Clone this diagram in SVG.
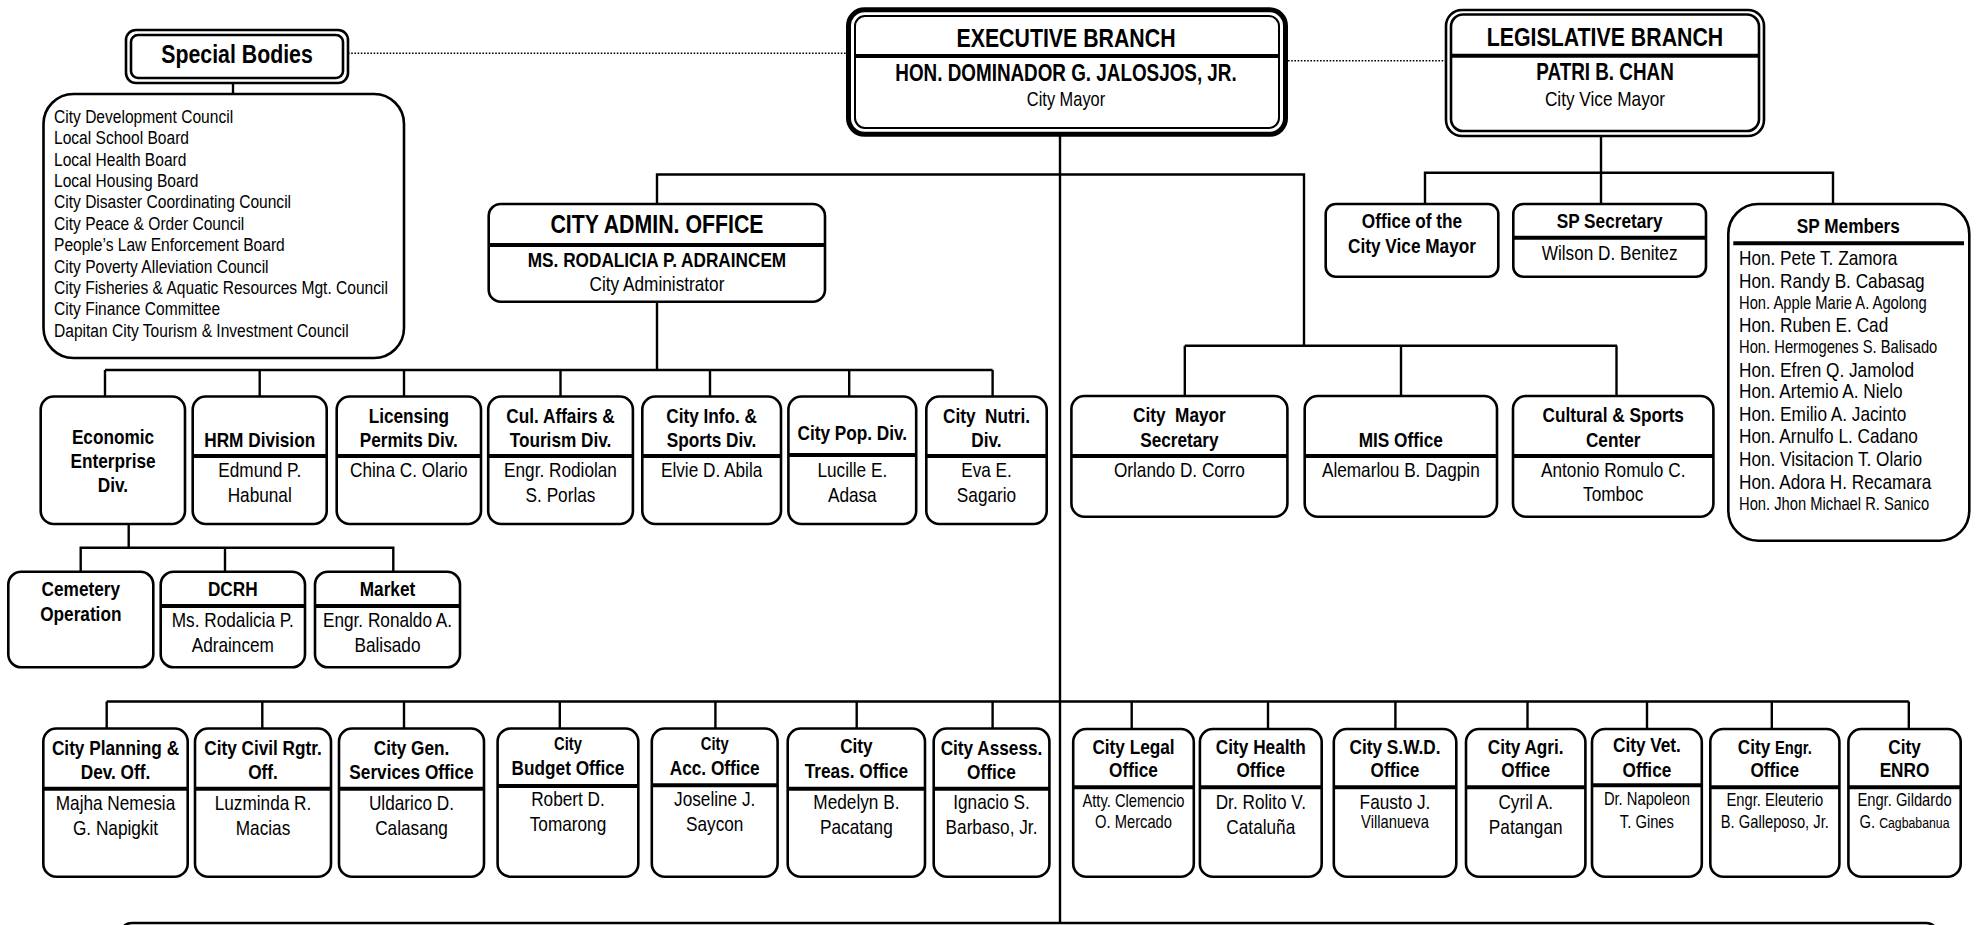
<svg xmlns="http://www.w3.org/2000/svg" width="1986" height="925" viewBox="0 0 1986 925">
<style>
.bg{fill:#fff}
.box{fill:#fff;stroke:#000;stroke-width:2.6}
.sep{stroke:#000;stroke-width:4}
.ln{stroke:#000;stroke-width:2.4;fill:none}
.dot{stroke:#000;stroke-width:1.6;stroke-dasharray:1.6 1.6;fill:none}
text{font-family:'Liberation Sans',Arial,sans-serif;font-size:21px;fill:#000;text-anchor:middle}
.b{font-weight:bold}
.l{text-anchor:start}
.h1{font-size:26px}
.h2{font-size:23px}
.s{font-size:18px}
.xs{font-size:16px}
.li{font-size:19px;text-anchor:start}
</style>
<rect class="bg" x="0" y="0" width="1986" height="925"/>

<g id="connectors">
  <line class="dot" x1="348" y1="53.3" x2="846" y2="53.3"/>
  <line class="dot" x1="1288" y1="60.7" x2="1446" y2="60.7"/>
  <line class="ln" x1="233" y1="83" x2="233" y2="94"/>
  <line class="ln" x1="1060" y1="136" x2="1060" y2="925"/>
  <polyline class="ln" points="657,204 657,174.5 1304,174.5 1304,345.7"/>
  <line class="ln" x1="1184.8" y1="345.7" x2="1617" y2="345.7"/>
  <line class="ln" x1="1184.8" y1="345.7" x2="1184.8" y2="396"/>
  <line class="ln" x1="1401" y1="345.7" x2="1401" y2="396"/>
  <line class="ln" x1="1616.5" y1="345.7" x2="1616.5" y2="396"/>
  <line class="ln" x1="1601" y1="136" x2="1601" y2="204"/>
  <polyline class="ln" points="1425,204 1425,172.7 1833,172.7 1833,204"/>
  <line class="ln" x1="657" y1="301.7" x2="657" y2="370"/>
  <line class="ln" x1="105" y1="370" x2="992.6" y2="370"/>
  <line class="ln" x1="105" y1="370" x2="105" y2="396.5"/>
  <line class="ln" x1="259.7" y1="370" x2="259.7" y2="396.5"/>
  <line class="ln" x1="404" y1="370" x2="404" y2="396.5"/>
  <line class="ln" x1="560.5" y1="370" x2="560.5" y2="396.5"/>
  <line class="ln" x1="710" y1="370" x2="710" y2="396.5"/>
  <line class="ln" x1="849.2" y1="370" x2="849.2" y2="396.5"/>
  <line class="ln" x1="992.6" y1="370" x2="992.6" y2="396.5"/>
  <line class="ln" x1="128.7" y1="524" x2="128.7" y2="547.7"/>
  <polyline class="ln" points="80.7,571.7 80.7,547.7 393.3,547.7 393.3,571.7"/>
  <line class="ln" x1="225" y1="547.7" x2="225" y2="571.7"/>
  <line class="ln" x1="106.7" y1="701.5" x2="1908.8" y2="701.5"/>
  <line class="ln" x1="106.7" y1="701.5" x2="106.7" y2="728.5"/>
  <line class="ln" x1="262.3" y1="701.5" x2="262.3" y2="728.5"/>
  <line class="ln" x1="404" y1="701.5" x2="404" y2="728.5"/>
  <line class="ln" x1="559.8" y1="701.5" x2="559.8" y2="728.5"/>
  <line class="ln" x1="715.4" y1="701.5" x2="715.4" y2="728.5"/>
  <line class="ln" x1="856.7" y1="701.5" x2="856.7" y2="728.5"/>
  <line class="ln" x1="992.6" y1="701.5" x2="992.6" y2="728.5"/>
  <line class="ln" x1="1131.7" y1="701.5" x2="1131.7" y2="728.5"/>
  <line class="ln" x1="1268" y1="701.5" x2="1268" y2="728.5"/>
  <line class="ln" x1="1395.4" y1="701.5" x2="1395.4" y2="728.5"/>
  <line class="ln" x1="1527.5" y1="701.5" x2="1527.5" y2="728.5"/>
  <line class="ln" x1="1647" y1="701.5" x2="1647" y2="728.5"/>
  <line class="ln" x1="1771.8" y1="701.5" x2="1771.8" y2="728.5"/>
  <line class="ln" x1="1908.8" y1="701.5" x2="1908.8" y2="728.5"/>
</g>

<g id="special-bodies">
  <rect class="box" x="126" y="30" width="222" height="53" rx="10"/>
  <rect class="box" x="131" y="35" width="212" height="43" rx="7"/>
  <text class="b h1" transform="matrix(.82 0 0 1 237 62.5)">Special Bodies</text>
</g>
<g id="special-bodies-list">
  <rect class="box" x="43.5" y="94" width="360.5" height="264" rx="30"/>
  <text class="li" transform="matrix(.82 0 0 1 54 122.7)">City Development Council</text>
  <text class="li" transform="matrix(.82 0 0 1 54 144.1)">Local School Board</text>
  <text class="li" transform="matrix(.82 0 0 1 54 165.5)">Local Health Board</text>
  <text class="li" transform="matrix(.82 0 0 1 54 186.9)">Local Housing Board</text>
  <text class="li" transform="matrix(.82 0 0 1 54 208.3)">City Disaster Coordinating Council</text>
  <text class="li" transform="matrix(.82 0 0 1 54 229.7)">City Peace &amp; Order Council</text>
  <text class="li" transform="matrix(.82 0 0 1 54 251.1)">People’s Law Enforcement Board</text>
  <text class="li" transform="matrix(.82 0 0 1 54 272.5)">City Poverty Alleviation Council</text>
  <text class="li" transform="matrix(.82 0 0 1 54 293.9)">City Fisheries &amp; Aquatic Resources Mgt. Council</text>
  <text class="li" transform="matrix(.82 0 0 1 54 315.3)">City Finance Committee</text>
  <text class="li" transform="matrix(.82 0 0 1 54 336.7)">Dapitan City Tourism &amp; Investment Council</text>
</g>

<g id="executive-branch">
  <rect x="848.5" y="9.8" width="437" height="124.5" rx="16" fill="#fff" stroke="#000" stroke-width="5"/>
  <rect x="855" y="16" width="424" height="112" rx="10" fill="none" stroke="#000" stroke-width="2"/>
  <line class="sep" x1="855" y1="56" x2="1279" y2="56"/>
  <text class="b h1" transform="matrix(.82 0 0 1 1066 47)">EXECUTIVE BRANCH</text>
  <text class="b" style="font-size:23px" transform="matrix(.82 0 0 1 1066 81)">HON. DOMINADOR G. JALOSJOS, JR.</text>
  <text style="font-size:20px" transform="matrix(.82 0 0 1 1066 106)">City Mayor</text>
</g>

<g id="legislative-branch">
  <rect class="box" x="1446" y="10" width="318" height="126" rx="16"/>
  <rect class="box" x="1451" y="14.5" width="308" height="116.5" rx="12"/>
  <line class="sep" x1="1451" y1="55.7" x2="1759" y2="55.7"/>
  <text class="b h1" transform="matrix(.82 0 0 1 1605 45.7)">LEGISLATIVE BRANCH</text>
  <text class="b h2" transform="matrix(.82 0 0 1 1605 80)">PATRI B. CHAN</text>
  <text transform="matrix(.82 0 0 1 1605 106)">City Vice Mayor</text>
</g>

<g id="city-admin-office">
  <rect class="box" x="488.7" y="204" width="336.3" height="97.7" rx="12"/>
  <line class="sep" x1="488.7" y1="245" x2="825" y2="245"/>
  <text class="b h1" transform="matrix(.82 0 0 1 657 233.3)">CITY ADMIN. OFFICE</text>
  <text class="b" transform="matrix(.82 0 0 1 657 266.7)">MS. RODALICIA P. ADRAINCEM</text>
  <text transform="matrix(.82 0 0 1 657 290.7)">City Administrator</text>
</g>

<g id="office-vice-mayor">
  <rect class="box" x="1325.7" y="204" width="172.6" height="72.7" rx="10"/>
  <text class="b" transform="matrix(.82 0 0 1 1412 228.3)">Office of the</text>
  <text class="b" transform="matrix(.82 0 0 1 1412 253.3)">City Vice Mayor</text>
</g>
<g id="sp-secretary">
  <rect class="box" x="1513.3" y="204" width="192.7" height="72.7" rx="10"/>
  <line class="sep" x1="1513.3" y1="237.7" x2="1706" y2="237.7"/>
  <text class="b" transform="matrix(.82 0 0 1 1609.6 228.3)">SP Secretary</text>
  <text transform="matrix(.82 0 0 1 1609.6 260)">Wilson D. Benitez</text>
</g>
<g id="sp-members">
  <rect class="box" x="1728.3" y="204" width="241" height="336.7" rx="30"/>
  <line class="sep" x1="1733.3" y1="243.3" x2="1964" y2="243.3"/>
  <text class="b" transform="matrix(.82 0 0 1 1848.3 233.3)">SP Members</text>
  <text class="l" transform="matrix(.82 0 0 1 1739 265)">Hon. Pete T. Zamora</text>
  <text class="l" transform="matrix(.82 0 0 1 1739 288.3)">Hon. Randy B. Cabasag</text>
  <text class="l s" transform="matrix(.82 0 0 1 1739 309)">Hon. Apple Marie A. Agolong</text>
  <text class="l" transform="matrix(.82 0 0 1 1739 331.7)">Hon. Ruben E. Cad</text>
  <text class="l s" transform="matrix(.82 0 0 1 1739 353.3)">Hon. Hermogenes S. Balisado</text>
  <text class="l" transform="matrix(.82 0 0 1 1739 376.7)">Hon. Efren Q. Jamolod</text>
  <text class="l" transform="matrix(.82 0 0 1 1739 398.3)">Hon. Artemio A. Nielo</text>
  <text class="l" transform="matrix(.82 0 0 1 1739 420.7)">Hon. Emilio A. Jacinto</text>
  <text class="l" transform="matrix(.82 0 0 1 1739 443.3)">Hon. Arnulfo L. Cadano</text>
  <text class="l" transform="matrix(.82 0 0 1 1739 466)">Hon. Visitacion T. Olario</text>
  <text class="l" transform="matrix(.82 0 0 1 1739 488.7)">Hon. Adora H. Recamara</text>
  <text class="l s" transform="matrix(.82 0 0 1 1739 510)">Hon. Jhon Michael R. Sanico</text>
</g>

<g id="economic-enterprise">
  <rect class="box" x="40.7" y="396.5" width="144.3" height="127.5" rx="13"/>
  <text class="b" transform="matrix(.82 0 0 1 113 444)">Economic</text>
  <text class="b" transform="matrix(.82 0 0 1 113 467.5)">Enterprise</text>
  <text class="b" transform="matrix(.82 0 0 1 113 492)">Div.</text>
</g>
<g id="hrm-division">
  <rect class="box" x="192.7" y="396.5" width="134" height="127.5" rx="13"/>
  <line class="sep" x1="192.7" y1="456" x2="326.7" y2="456"/>
  <text class="b" transform="matrix(.82 0 0 1 259.7 447)">HRM Division</text>
  <text transform="matrix(.82 0 0 1 259.7 477)">Edmund P.</text>
  <text transform="matrix(.82 0 0 1 259.7 501.5)">Habunal</text>
</g>
<g id="licensing">
  <rect class="box" x="336.7" y="396.5" width="144.3" height="127.5" rx="13"/>
  <line class="sep" x1="336.7" y1="456" x2="481" y2="456"/>
  <text class="b" transform="matrix(.82 0 0 1 408.8 422.7)">Licensing</text>
  <text class="b" transform="matrix(.82 0 0 1 408.8 446.7)">Permits Div.</text>
  <text transform="matrix(.82 0 0 1 408.8 477)">China C. Olario</text>
</g>
<g id="cul-affairs">
  <rect class="box" x="488.2" y="396.5" width="144.7" height="127.5" rx="13"/>
  <line class="sep" x1="488.2" y1="456" x2="632.9" y2="456"/>
  <text class="b" transform="matrix(.82 0 0 1 560.5 422.7)">Cul. Affairs &amp;</text>
  <text class="b" transform="matrix(.82 0 0 1 560.5 446.7)">Tourism Div.</text>
  <text transform="matrix(.82 0 0 1 560.5 477)">Engr. Rodiolan</text>
  <text transform="matrix(.82 0 0 1 560.5 501.5)">S. Porlas</text>
</g>
<g id="city-info">
  <rect class="box" x="642.3" y="396.5" width="138.7" height="127.5" rx="13"/>
  <line class="sep" x1="642.3" y1="456" x2="781" y2="456"/>
  <text class="b" transform="matrix(.82 0 0 1 711.6 422.7)">City Info. &amp;</text>
  <text class="b" transform="matrix(.82 0 0 1 711.6 446.7)">Sports Div.</text>
  <text transform="matrix(.82 0 0 1 711.6 477)">Elvie D. Abila</text>
</g>
<g id="city-pop">
  <rect class="box" x="788.4" y="396.5" width="127.8" height="127.5" rx="13"/>
  <line class="sep" x1="788.4" y1="455" x2="916.2" y2="455"/>
  <text class="b" transform="matrix(.82 0 0 1 852.3 440)">City Pop. Div.</text>
  <text transform="matrix(.82 0 0 1 852.3 477)">Lucille E.</text>
  <text transform="matrix(.82 0 0 1 852.3 501.5)">Adasa</text>
</g>
<g id="city-nutri">
  <rect class="box" x="926.3" y="396.5" width="120.4" height="127.5" rx="13"/>
  <line class="sep" x1="926.3" y1="456" x2="1046.7" y2="456"/>
  <text class="b" xml:space="preserve" transform="matrix(.82 0 0 1 986.5 422.7)">City  Nutri.</text>
  <text class="b" transform="matrix(.82 0 0 1 986.5 446.7)">Div.</text>
  <text transform="matrix(.82 0 0 1 986.5 477)">Eva E.</text>
  <text transform="matrix(.82 0 0 1 986.5 501.5)">Sagario</text>
</g>

<g id="cemetery">
  <rect class="box" x="8.3" y="571.7" width="145" height="95.6" rx="13"/>
  <text class="b" transform="matrix(.82 0 0 1 80.8 596)">Cemetery</text>
  <text class="b" transform="matrix(.82 0 0 1 80.8 620.7)">Operation</text>
</g>
<g id="dcrh">
  <rect class="box" x="160.7" y="571.7" width="144.3" height="95.6" rx="13"/>
  <line class="sep" x1="160.7" y1="606" x2="305" y2="606"/>
  <text class="b" transform="matrix(.82 0 0 1 232.8 596)">DCRH</text>
  <text transform="matrix(.82 0 0 1 232.8 627.3)">Ms. Rodalicia P.</text>
  <text transform="matrix(.82 0 0 1 232.8 651.7)">Adraincem</text>
</g>
<g id="market">
  <rect class="box" x="315" y="571.7" width="145" height="95.6" rx="13"/>
  <line class="sep" x1="315" y1="606" x2="460" y2="606"/>
  <text class="b" transform="matrix(.82 0 0 1 387.5 596)">Market</text>
  <text transform="matrix(.82 0 0 1 387.5 627.3)">Engr. Ronaldo A.</text>
  <text transform="matrix(.82 0 0 1 387.5 651.7)">Balisado</text>
</g>

<g id="city-mayor-secretary">
  <rect class="box" x="1071.4" y="396" width="216" height="120.7" rx="13"/>
  <line class="sep" x1="1071.4" y1="456" x2="1287.4" y2="456"/>
  <text class="b" xml:space="preserve" transform="matrix(.82 0 0 1 1179.4 421.7)">City  Mayor</text>
  <text class="b" transform="matrix(.82 0 0 1 1179.4 446.7)">Secretary</text>
  <text transform="matrix(.82 0 0 1 1179.4 477)">Orlando D. Corro</text>
</g>
<g id="mis-office">
  <rect class="box" x="1304.7" y="396" width="192.3" height="120.7" rx="13"/>
  <line class="sep" x1="1304.7" y1="456" x2="1497" y2="456"/>
  <text class="b" transform="matrix(.82 0 0 1 1400.8 446.5)">MIS Office</text>
  <text transform="matrix(.82 0 0 1 1400.8 477)">Alemarlou B. Dagpin</text>
</g>
<g id="cultural-sports">
  <rect class="box" x="1513" y="396" width="200.4" height="120.7" rx="13"/>
  <line class="sep" x1="1513" y1="456" x2="1713.4" y2="456"/>
  <text class="b" transform="matrix(.82 0 0 1 1613.2 421.7)">Cultural &amp; Sports</text>
  <text class="b" transform="matrix(.82 0 0 1 1613.2 446.7)">Center</text>
  <text transform="matrix(.82 0 0 1 1613.2 477)">Antonio Romulo C.</text>
  <text transform="matrix(.82 0 0 1 1613.2 500.7)">Tomboc</text>
</g>

<g id="city-planning">
  <rect class="box" x="43.3" y="728.5" width="144.4" height="148.2" rx="13"/>
  <line class="sep" x1="43.3" y1="788.7" x2="187.7" y2="788.7"/>
  <text class="b" transform="matrix(.82 0 0 1 115.5 755)">City Planning &amp;</text>
  <text class="b" transform="matrix(.82 0 0 1 115.5 779.3)">Dev. Off.</text>
  <text transform="matrix(.82 0 0 1 115.5 810)">Majha Nemesia</text>
  <text transform="matrix(.82 0 0 1 115.5 835)">G. Napigkit</text>
</g>
<g id="city-civil">
  <rect class="box" x="195" y="728.5" width="136" height="148.2" rx="13"/>
  <line class="sep" x1="195" y1="788.7" x2="331" y2="788.7"/>
  <text class="b" transform="matrix(.82 0 0 1 263 755)">City Civil Rgtr.</text>
  <text class="b" transform="matrix(.82 0 0 1 263 779.3)">Off.</text>
  <text transform="matrix(.82 0 0 1 263 810)">Luzminda R.</text>
  <text transform="matrix(.82 0 0 1 263 835)">Macias</text>
</g>
<g id="city-gen">
  <rect class="box" x="339" y="728.5" width="145" height="148.2" rx="13"/>
  <line class="sep" x1="339" y1="788.7" x2="484" y2="788.7"/>
  <text class="b" transform="matrix(.82 0 0 1 411.5 755)">City Gen.</text>
  <text class="b" transform="matrix(.82 0 0 1 411.5 779.3)">Services Office</text>
  <text transform="matrix(.82 0 0 1 411.5 810)">Uldarico D.</text>
  <text transform="matrix(.82 0 0 1 411.5 835)">Calasang</text>
</g>
<g id="city-budget">
  <rect class="box" x="497.6" y="728.5" width="140.7" height="148.2" rx="13"/>
  <line class="sep" x1="497.6" y1="786" x2="638.3" y2="786"/>
  <text class="b s" transform="matrix(.82 0 0 1 568 750)">City</text>
  <text class="b" transform="matrix(.82 0 0 1 568 775)">Budget Office</text>
  <text transform="matrix(.82 0 0 1 568 806)">Robert D.</text>
  <text transform="matrix(.82 0 0 1 568 830.7)">Tomarong</text>
</g>
<g id="city-acc">
  <rect class="box" x="651.8" y="728.5" width="125.8" height="148.2" rx="13"/>
  <line class="sep" x1="651.8" y1="785.3" x2="777.6" y2="785.3"/>
  <text class="b s" transform="matrix(.82 0 0 1 714.7 750)">City</text>
  <text class="b" transform="matrix(.82 0 0 1 714.7 775)">Acc. Office</text>
  <text transform="matrix(.82 0 0 1 714.7 806)">Joseline J.</text>
  <text transform="matrix(.82 0 0 1 714.7 830.7)">Saycon</text>
</g>
<g id="city-treas">
  <rect class="box" x="787.7" y="728.5" width="137.3" height="148.2" rx="13"/>
  <line class="sep" x1="787.7" y1="788.7" x2="925" y2="788.7"/>
  <text class="b" transform="matrix(.82 0 0 1 856.4 753.3)">City</text>
  <text class="b" transform="matrix(.82 0 0 1 856.4 778.3)">Treas. Office</text>
  <text transform="matrix(.82 0 0 1 856.4 809.3)">Medelyn B.</text>
  <text transform="matrix(.82 0 0 1 856.4 834)">Pacatang</text>
</g>
<g id="city-assess">
  <rect class="box" x="933.7" y="728.5" width="115.7" height="148.2" rx="13"/>
  <line class="sep" x1="933.7" y1="788.7" x2="1049.4" y2="788.7"/>
  <text class="b" transform="matrix(.82 0 0 1 991.5 755)">City Assess.</text>
  <text class="b" transform="matrix(.82 0 0 1 991.5 779.3)">Office</text>
  <text transform="matrix(.82 0 0 1 991.5 809.3)">Ignacio S.</text>
  <text transform="matrix(.82 0 0 1 991.5 834)">Barbaso, Jr.</text>
</g>
<g id="city-legal">
  <rect class="box" x="1073.2" y="729" width="120.6" height="147.7" rx="13"/>
  <line class="sep" x1="1073.2" y1="787.3" x2="1193.8" y2="787.3"/>
  <text class="b" transform="matrix(.82 0 0 1 1133.5 754)">City Legal</text>
  <text class="b" transform="matrix(.82 0 0 1 1133.5 777.3)">Office</text>
  <text class="s" transform="matrix(.82 0 0 1 1133.5 806.7)">Atty. Clemencio</text>
  <text class="s" transform="matrix(.82 0 0 1 1133.5 828.3)">O. Mercado</text>
</g>
<g id="city-health">
  <rect class="box" x="1199.9" y="729" width="121.8" height="147.7" rx="13"/>
  <line class="sep" x1="1199.9" y1="787.3" x2="1321.7" y2="787.3"/>
  <text class="b" transform="matrix(.82 0 0 1 1260.8 754)">City Health</text>
  <text class="b" transform="matrix(.82 0 0 1 1260.8 777.3)">Office</text>
  <text transform="matrix(.82 0 0 1 1260.8 809)">Dr. Rolito V.</text>
  <text transform="matrix(.82 0 0 1 1260.8 834)">Cataluña</text>
</g>
<g id="city-swd">
  <rect class="box" x="1333.8" y="729" width="122.5" height="147.7" rx="13"/>
  <line class="sep" x1="1333.8" y1="787.3" x2="1456.3" y2="787.3"/>
  <text class="b" transform="matrix(.82 0 0 1 1395 754)">City S.W.D.</text>
  <text class="b" transform="matrix(.82 0 0 1 1395 777.3)">Office</text>
  <text transform="matrix(.82 0 0 1 1395 809)">Fausto J.</text>
  <text class="s" transform="matrix(.82 0 0 1 1395 828.3)">Villanueva</text>
</g>
<g id="city-agri">
  <rect class="box" x="1466" y="729" width="119.4" height="147.7" rx="13"/>
  <line class="sep" x1="1466" y1="787.3" x2="1585.4" y2="787.3"/>
  <text class="b" transform="matrix(.82 0 0 1 1525.7 754)">City Agri.</text>
  <text class="b" transform="matrix(.82 0 0 1 1525.7 777.3)">Office</text>
  <text transform="matrix(.82 0 0 1 1525.7 809)">Cyril A.</text>
  <text transform="matrix(.82 0 0 1 1525.7 834)">Patangan</text>
</g>
<g id="city-vet">
  <rect class="box" x="1592" y="729" width="109.8" height="147.7" rx="13"/>
  <line class="sep" x1="1592" y1="785.3" x2="1701.8" y2="785.3"/>
  <text class="b" transform="matrix(.82 0 0 1 1646.9 752)">City Vet.</text>
  <text class="b" transform="matrix(.82 0 0 1 1646.9 777)">Office</text>
  <text class="s" transform="matrix(.82 0 0 1 1646.9 805)">Dr. Napoleon</text>
  <text class="s" transform="matrix(.82 0 0 1 1646.9 828.3)">T. Gines</text>
</g>
<g id="city-engr">
  <rect class="box" x="1710.3" y="729" width="129.1" height="147.7" rx="13"/>
  <line class="sep" x1="1710.3" y1="787.3" x2="1839.4" y2="787.3"/>
  <text class="b" transform="matrix(.82 0 0 1 1774.8 754)">City <tspan class="s">Engr.</tspan></text>
  <text class="b" transform="matrix(.82 0 0 1 1774.8 777.3)">Office</text>
  <text class="s" transform="matrix(.82 0 0 1 1774.8 806)">Engr. Eleuterio</text>
  <text class="s" transform="matrix(.82 0 0 1 1774.8 828.3)">B. Galleposo, Jr.</text>
</g>
<g id="city-enro">
  <rect class="box" x="1848.4" y="729" width="112.3" height="147.7" rx="13"/>
  <line class="sep" x1="1848.4" y1="787.3" x2="1960.7" y2="787.3"/>
  <text class="b" transform="matrix(.82 0 0 1 1904.5 754)">City</text>
  <text class="b" transform="matrix(.82 0 0 1 1904.5 777.3)">ENRO</text>
  <text class="s" transform="matrix(.82 0 0 1 1904.5 806)">Engr. Gildardo</text>
  <text class="s" transform="matrix(.82 0 0 1 1904.5 828.3)">G. <tspan style="font-size:15px">Cagbabanua</tspan></text>
</g>

<g id="bottom-box">
  <rect class="box" x="120" y="923" width="1818" height="40" rx="12"/>
</g>
</svg>
